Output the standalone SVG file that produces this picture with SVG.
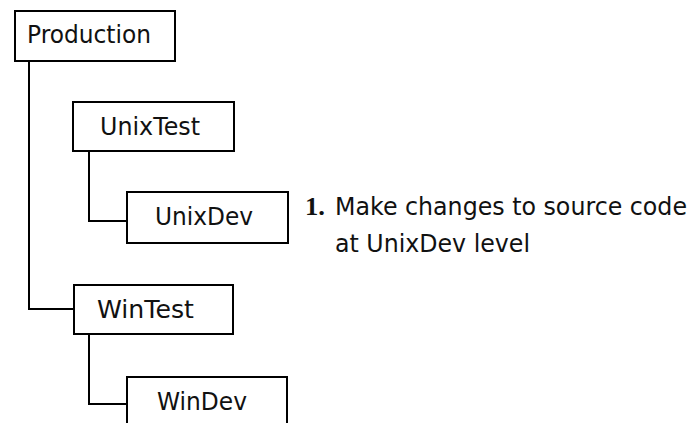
<svg xmlns="http://www.w3.org/2000/svg" width="691" height="423" viewBox="0 0 691 423">
<style>
.box{fill:#fff;stroke:#000;stroke-width:2}
.lbl{font-family:"DejaVu Sans",Verdana,sans-serif;font-size:25px;fill:#111}
.con{fill:none;stroke:#000;stroke-width:2}
.note{font-family:"DejaVu Sans",Verdana,sans-serif;font-size:24px;fill:#111}
.num{font-family:"Liberation Serif","Times New Roman",serif;font-weight:bold;font-size:25px;fill:#111}
</style>
<rect width="691" height="423" fill="#fff"/>
<g id="connectors">
<polyline class="con" points="29,61 29,309 74,309"/>
<polyline class="con" points="89,151 89,221 127,221"/>
<polyline class="con" points="89,334 89,404 127,404"/>
</g>
<g id="production"><rect class="box" x="15" y="11" width="160" height="50"/><text class="lbl" x="27" y="43" textLength="124" lengthAdjust="spacingAndGlyphs">Production</text></g>
<g id="unixtest"><rect class="box" x="73" y="102" width="161" height="49"/><text class="lbl" x="100" y="135" textLength="100" lengthAdjust="spacingAndGlyphs">UnixTest</text></g>
<g id="unixdev"><rect class="box" x="127" y="192" width="161" height="51"/><text class="lbl" x="155" y="225" textLength="98" lengthAdjust="spacingAndGlyphs">UnixDev</text></g>
<g id="wintest"><rect class="box" x="74" y="285" width="159" height="49"/><text class="lbl" x="97" y="318" textLength="97" lengthAdjust="spacingAndGlyphs">WinTest</text></g>
<g id="windev"><rect class="box" x="127" y="377" width="160" height="60"/><text class="lbl" x="157" y="410" textLength="90" lengthAdjust="spacingAndGlyphs">WinDev</text></g>
<g id="note">
<text class="num" x="305" y="215" textLength="20" lengthAdjust="spacingAndGlyphs">1.</text>
<text class="note" x="335" y="215" textLength="352" lengthAdjust="spacingAndGlyphs">Make changes to source code</text>
<text class="note" x="335" y="252" textLength="195" lengthAdjust="spacingAndGlyphs">at UnixDev level</text>
</g>
</svg>
